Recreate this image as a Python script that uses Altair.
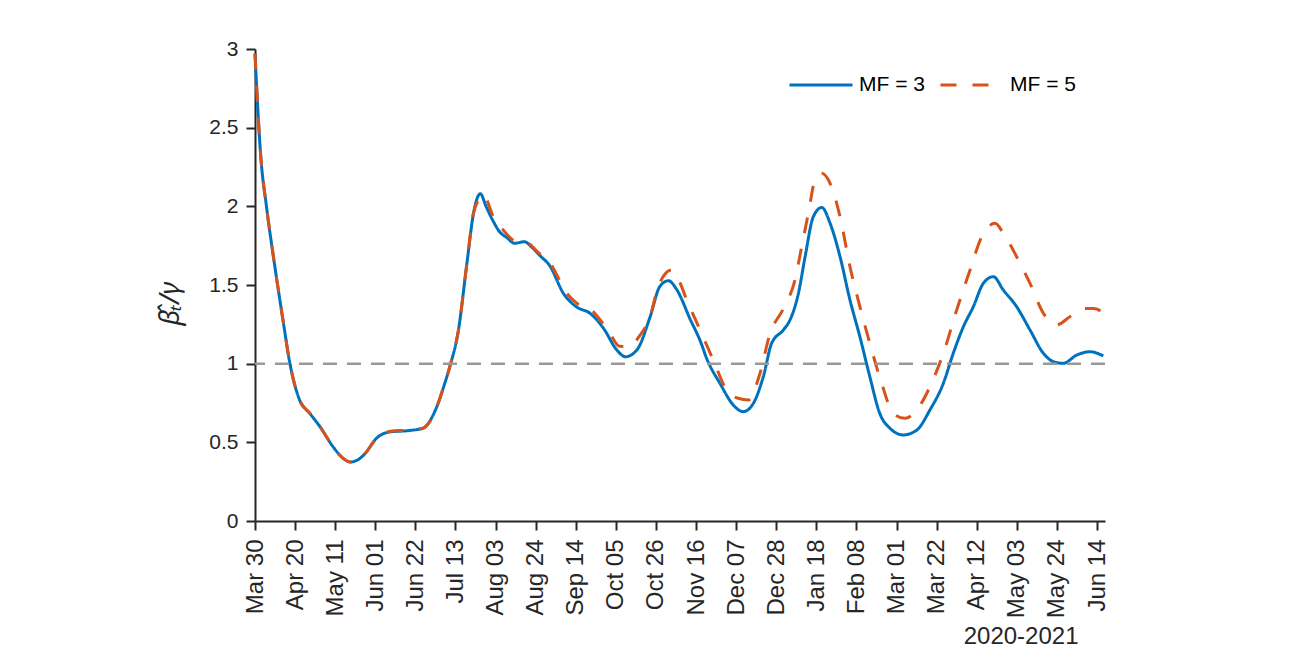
import altair as alt
import pandas as pd

start_date = "2020-03-30"

mf3_days = [0, 3, 6, 10, 15, 18, 23, 29, 34, 41, 46, 50, 54, 57, 64, 71, 80, 88, 95, 99,
            102, 106.5, 111, 114.5, 118, 121, 125, 128, 132, 136, 141, 145, 149, 154.5, 161.5,
            168.5, 175.5, 182.5, 189.5, 194, 200, 207, 212, 216.5, 221, 228, 233, 237, 243.5,
            250.5, 255.7, 261, 266.2, 270.6, 276.7, 280.2, 284.6, 288.1, 292.4, 296.8, 301.2,
            306.4, 311.6, 316.8, 322, 327.2, 332.6, 339.5, 346.6, 353.5, 360.5, 365.7, 371,
            376.2, 381.4, 386.7, 391.9, 398.9, 405.9, 412.9, 418.1, 423.3, 430.4, 437.3, 444.3]
mf3_values = [2.97, 2.32, 2.0, 1.65, 1.25, 1.02, 0.78, 0.68, 0.60, 0.47, 0.40, 0.375, 0.39,
              0.42, 0.53, 0.567, 0.574, 0.59, 0.72, 0.86, 0.98, 1.21, 1.64, 1.96, 2.08, 2.0,
              1.90, 1.84, 1.80, 1.765, 1.775, 1.74, 1.69, 1.62, 1.447, 1.36, 1.32, 1.225, 1.087,
              1.044, 1.087, 1.30, 1.49, 1.527, 1.468, 1.28, 1.15, 1.02, 0.875, 0.737, 0.695,
              0.748, 0.917, 1.13, 1.214, 1.278, 1.447, 1.68, 1.934, 1.993, 1.892, 1.68, 1.405,
              1.171, 0.917, 0.684, 0.589, 0.547, 0.578, 0.706, 0.875, 1.066, 1.235, 1.362, 1.51,
              1.553, 1.468, 1.362, 1.214, 1.066, 1.013, 1.002, 1.055, 1.076, 1.049]

mf5_days = [0, 3, 6, 10, 15, 18, 23, 29, 34, 41, 46, 50, 54, 57, 64, 71, 80, 88, 95, 99,
            102, 106.5, 111, 114.5, 119.6, 125, 130, 136, 143.1, 148, 154.5, 163.3, 169, 175.5,
            180, 185.9, 191, 196.4, 201, 206.9, 211.2, 218.2, 222, 226.1, 233.1, 240, 247, 253,
            258.4, 264.5, 269.7, 276.7, 282.8, 286.3, 289.8, 293.3, 296.8, 301.2, 306.4, 311.6,
            316.8, 322, 328.2, 334.3, 340.4, 346.6, 353.5, 360.5, 367.5, 374.5, 380.6, 387.6,
            391.9, 398.9, 405.9, 412.9, 419.9, 426.9, 433.8, 439.1, 444.3]
mf5_values = [2.97, 2.32, 2.0, 1.65, 1.25, 1.02, 0.78, 0.68, 0.60, 0.47, 0.40, 0.375, 0.39,
              0.42, 0.53, 0.57, 0.578, 0.59, 0.72, 0.86, 0.98, 1.21, 1.64, 1.96, 2.07, 1.93,
              1.85, 1.78, 1.765, 1.71, 1.64, 1.447, 1.38, 1.35, 1.29, 1.19, 1.11, 1.108, 1.17,
              1.30, 1.49, 1.595, 1.53, 1.405, 1.214, 1.023, 0.833, 0.78, 0.769, 0.94, 1.19, 1.35,
              1.532, 1.744, 1.956, 2.167, 2.21, 2.146, 1.934, 1.617, 1.362, 1.13, 0.875, 0.684,
              0.653, 0.706, 0.854, 1.066, 1.341, 1.596, 1.807, 1.892, 1.829, 1.68, 1.51, 1.32,
              1.246, 1.30, 1.35, 1.35, 1.325]

series_names = ["MF = 3", "MF = 5"]
series_colors = ["#0072BD", "#D95319"]
tick_dates = ["2020-03-30", "2020-04-20", "2020-05-11", "2020-06-01", "2020-06-22",
              "2020-07-13", "2020-08-03", "2020-08-24", "2020-09-14", "2020-10-05",
              "2020-10-26", "2020-11-16", "2020-12-07", "2020-12-28", "2021-01-18",
              "2021-02-08", "2021-03-01", "2021-03-22", "2021-04-12", "2021-05-03",
              "2021-05-24", "2021-06-14"]
y_ticks = [0, 0.5, 1, 1.5, 2, 2.5, 3]
reference_level = 1

t0 = pd.Timestamp(start_date)
frames = []
for name, days, vals in [(series_names[0], mf3_days, mf3_values),
                         (series_names[1], mf5_days, mf5_values)]:
    d = pd.DataFrame({"day": days, "value": vals})
    d["date"] = (t0 + pd.to_timedelta(d["day"], unit="D")).dt.strftime("%Y-%m-%dT%H:%M:%S")
    d["series"] = name
    d["order"] = series_names.index(name)
    frames.append(d)
df = pd.concat(frames, ignore_index=True)


def dt(s):
    ts = pd.Timestamp(s)
    return alt.DateTime(year=ts.year, month=ts.month, date=ts.day, hours=ts.hour)


FONT = "Liberation Sans"
AX = "#262626"

x_enc = alt.X("date:T",
              scale=alt.Scale(domain=[dt("2020-03-30"), dt("2021-06-18 04:00")], nice=False),
              axis=alt.Axis(values=[dt(s) for s in tick_dates], format="%b %d",
                            labelAngle=-90, labelFontSize=24, labelFont=FONT,
                            labelColor=AX, tickColor=AX, domainColor=AX, tickSize=9,
                            tickWidth=2, domainWidth=2, labelPadding=9, grid=False,
                            title="2020-2021", titleFont=FONT, titleFontSize=24,
                            titleFontWeight="normal", titleColor=AX, titleAnchor="end",
                            titleAlign="right", titleX=823, titleY=122,
                            titleBaseline="alphabetic"))
y_enc = alt.Y("value:Q",
              scale=alt.Scale(domain=[0, 3], nice=False),
              axis=alt.Axis(values=y_ticks, format="~g", labelFontSize=21, labelFont=FONT,
                            labelColor=AX, tickColor=AX, domainColor=AX, tickSize=9,
                            tickWidth=2, domainWidth=2, labelPadding=8, grid=False,
                            title="β\u0302\u209c/γ", titleFont="Noto Sans",
                            titleFontStyle="italic",
                            titleFontWeight="normal", titleFontSize=27, titleColor=AX,
                            titleX=-85, titleY=254, titleAlign="center",
                            titleBaseline="middle"))

legend_cfg = dict(title=None, orient="none", legendX=533, legendY=3,
                  direction="horizontal", symbolType="stroke",
                  symbolSize=3969, symbolStrokeWidth=3,
                  labelFont=FONT, labelFontSize=21, labelColor="#000000",
                  labelOffset=5, columnPadding=9)

lines = alt.Chart(df).mark_line(strokeWidth=3, interpolate="monotone", strokeCap="butt").encode(
    x=x_enc,
    y=y_enc,
    color=alt.Color("series:N",
                    scale=alt.Scale(domain=series_names, range=series_colors),
                    legend=alt.Legend(**legend_cfg)),
    strokeDash=alt.StrokeDash("series:N",
                              scale=alt.Scale(domain=series_names, range=[[1, 0], [16, 16]]),
                              legend=alt.Legend(**legend_cfg)),
    order=alt.Order("order:Q"),
)

ref = alt.Chart(pd.DataFrame({"level": [reference_level]})).mark_rule(
    color="#999999", strokeWidth=2.5, strokeDash=[14, 10]
).encode(y=alt.Y("level:Q"))

chart = alt.layer(lines, ref).properties(
    width=850, height=472,
    background="white",
    autosize=alt.AutoSizeParams(type="none"),
    padding={"left": 247, "top": 41, "right": 150, "bottom": 127},
).configure_view(strokeWidth=0, stroke=None)

chart.save("out.html", embed_options={"renderer": "svg", "actions": False})
